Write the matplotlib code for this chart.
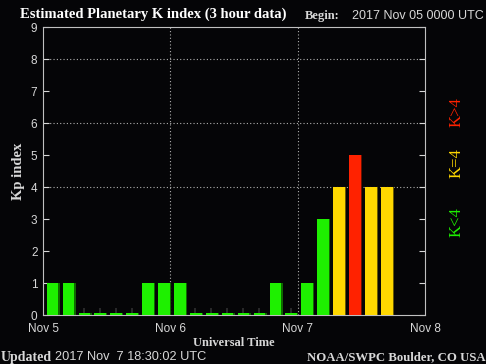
import numpy as np
import matplotlib
matplotlib.use("Agg")
import matplotlib.pyplot as plt

# Kp values per 3-hour slot, Nov 5 00 UTC onward (last two slots of Nov 7 not yet available)
kp = [1, 1, 0, 0, 0, 0, 1, 1,
      1, 0, 0, 0, 0, 0, 1, 0,
      1, 3, 4, 5, 4, 4]
day_labels = ["Nov 5", "Nov 6", "Nov 7", "Nov 8"]
title = "Estimated Planetary K index (3 hour data)"
begin_txt = "2017 Nov 05 0000 UTC"
updated_txt = "2017 Nov  7 18:30:02 UTC"

bg = "#050507"
fg = "#d8d8d8"
serif = "Liberation Serif"
sans = "Liberation Sans"

def kp_color(k):
    if k < 4:
        return "#1ef000"
    if k == 4:
        return "#ffd800"
    return "#ff2200"

def shade(k):
    if k < 4:
        return "#0f6a00"
    if k == 4:
        return "#6a5a00"
    return "#6a1000"

fig = plt.figure(figsize=(4.86, 3.64), dpi=100, facecolor=bg)
ax = fig.add_axes([0.0885, 0.1346, 0.786, 0.7912], facecolor=bg)

kp = np.array(kp)
x = np.arange(len(kp)) * 3 + 0.7
heights = np.maximum(kp, 0.06)
cols = [kp_color(k) for k in kp]
ax.bar(x + 0.25, heights, width=2.2, align="edge", color=[shade(k) for k in kp], zorder=2)
ax.bar(x, heights, width=2.2, align="edge", color=cols, zorder=3)

ax.set_xlim(0, 72)
ax.set_ylim(0, 9)
ax.set_xticks([0, 24, 48, 72])
ax.set_xticklabels(day_labels, fontsize=8.5, family=sans, color=fg)
ax.set_xticks(np.arange(len(kp)) * 3 + 1.7, minor=True)
ax.tick_params(axis="x", which="major", length=0, pad=6)
ax.tick_params(axis="x", which="minor", direction="in", length=5, color="#303030", width=1.2)
for t in ax.xaxis.get_minor_ticks():
    t.tick1line.set_zorder(5)

ax.set_yticks(range(10))
ax.set_yticklabels([str(i) for i in range(10)], fontsize=8.5, family=sans, color=fg)
ax.tick_params(axis="y", direction="in", length=4, color=fg, right=True, pad=4)

for d in [24, 48]:
    ax.axvline(d, color="#b0b0b0", lw=0.8, ls=(0, (1, 2)), zorder=1)
for yv in [4, 6, 8]:
    ax.axhline(yv, color="#b0b0b0", lw=0.8, ls=(0, (1, 2)), zorder=1)

for s in ax.spines.values():
    s.set_color("#c0c0c0")
    s.set_linewidth(0.8)

ax.set_xlabel("Universal Time", family=serif, fontweight="bold", fontsize=9, color=fg, labelpad=1)
ax.set_ylabel("Kp index", family=serif, fontweight="bold", fontsize=10.5, color=fg, labelpad=4)

fig.text(20 / 486, 1 - 14 / 364, title, family=serif, fontweight="bold", fontsize=10.5,
         color="white", va="center", ha="left")
fig.text(305 / 486, 1 - 16 / 364, "Begin:", family=serif, fontweight="bold", fontsize=9,
         color=fg, va="center", ha="left")
fig.text(352 / 486, 1 - 16 / 364, begin_txt, family=sans, fontsize=9,
         color=fg, va="center", ha="left")
fig.text(1 / 486, 1 - 357 / 364, "Updated", family=serif, fontweight="bold", fontsize=10,
         color=fg, va="center", ha="left")
fig.text(55 / 486, 1 - 357 / 364, updated_txt, family=sans, fontsize=9.2,
         color=fg, va="center", ha="left")
fig.text(486 / 486, 1 - 357 / 364, "NOAA/SWPC Boulder, CO USA", family=serif, fontweight="bold",
         fontsize=9.2, color=fg, va="center", ha="right")

fig.text(457 / 486, 1 - 222 / 364, "K<4", family=serif, fontsize=12, color="#1ef000",
         rotation=90, va="center", ha="center")
fig.text(457 / 486, 1 - 163 / 364, "K=4", family=serif, fontsize=12, color="#ffd800",
         rotation=90, va="center", ha="center")
fig.text(457 / 486, 1 - 112 / 364, "K>4", family=serif, fontsize=12, color="#ff2200",
         rotation=90, va="center", ha="center")

fig.savefig("out.png", dpi=100, facecolor=bg)
